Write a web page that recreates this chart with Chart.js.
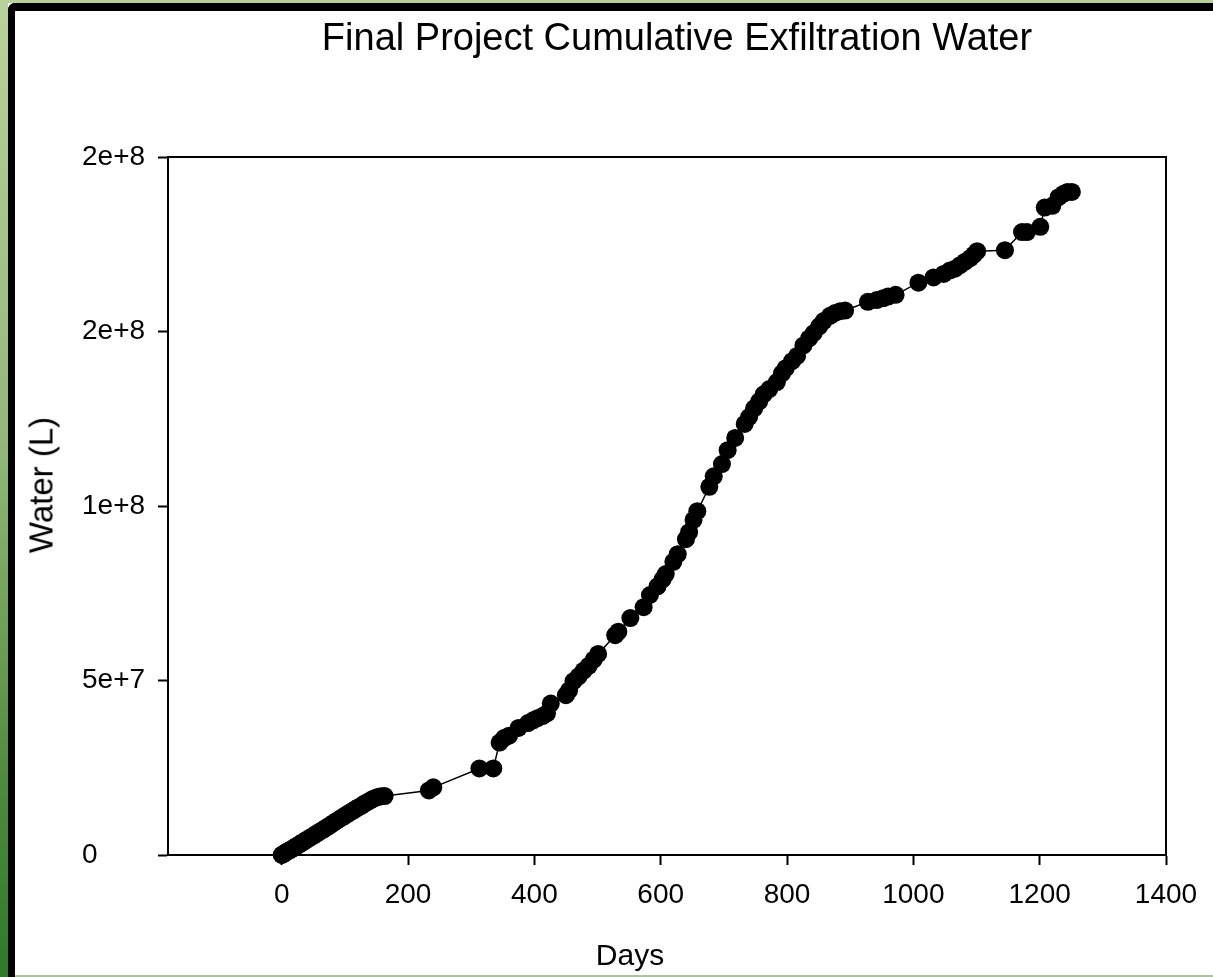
<!DOCTYPE html>
<html>
<head>
<meta charset="utf-8">
<title>Final Project Cumulative Exfiltration Water</title>
<script src="https://cdn.jsdelivr.net/npm/chart.js@4.4.1/dist/chart.umd.min.js"></script>
<style>
  html, body { margin: 0; padding: 0; background: #fff; }
  #page { position: relative; width: 1213px; height: 977px; overflow: hidden; background: #fff;
          font-family: "Liberation Sans", Arial, sans-serif; color: #000; }
  /* green edge + black frame */
  #greenLeft { position: absolute; left: 0; top: 0; width: 8px; height: 977px;
               background: linear-gradient(to bottom, #b9d29b 0%, #93b877 45%, #4f8b3c 80%, #2d7a2a 100%); }
  #greenTop { position: absolute; left: 0; top: 0; width: 1213px; height: 3px; background: #b7d199; }
  #frame { position: absolute; left: 8px; top: 3px; width: 1220px; height: 990px;
           border-left: 7px solid #000; border-top: 8px solid #000; border-top-left-radius: 7px; }
  #bottomLine { position: absolute; left: 15px; top: 975px; width: 1198px; height: 2px; background: #a9c2a0; }
  #chartBox { position: absolute; left: 0; top: 0; width: 1213px; height: 977px; }
  .lbl { position: absolute; white-space: nowrap; }
  #title { left: 0; top: 18px; width: 1354px; text-align: center; font-size: 38px; line-height: 38px; }
  #xTitle { left: 630px; top: 955px; font-size: 30px; line-height: 30px; transform: translate(-50%, -50%); }
  #yTitle { left: 41px; top: 485px; font-size: 33px; line-height: 33px;
            transform: translate(-50%, -50%) rotate(-90deg); }
</style>
</head>
<body>
<div id="page">
  <div id="greenLeft"></div>
  <div id="greenTop"></div>
  <div id="frame"></div>
  <div id="bottomLine"></div>
  <div id="chartBox"><canvas id="exfilChart" width="1213" height="977"></canvas></div>
  <div class="lbl" id="title">Final Project Cumulative Exfiltration Water</div>
  <div class="lbl" id="xTitle">Days</div>
  <div class="lbl" id="yTitle">Water (L)</div>
</div>

<script>
// cumulative exfiltration readings
const days = [
  0, 1, 3, 5, 7, 9, 12, 14, 17, 20, 23, 26, 29, 32, 35, 38, 42, 46, 50, 54,
  58, 62, 66, 70, 74, 78, 82, 86, 90, 94, 98, 102, 106, 110, 114, 118, 122, 126, 130, 134,
  138, 142, 146, 150, 154, 158, 163,
  233, 240, 313, 335, 345, 352, 360, 375, 390, 398, 405, 413, 420, 426, 450, 455, 462, 470,
  478, 486, 494, 501, 528, 533, 552, 573, 583, 595, 603, 608, 620, 627, 640, 645, 652, 658,
  677, 684, 697, 706, 718, 733, 740, 748, 756, 763, 772, 784, 792, 798, 808, 816, 826, 835,
  842, 851, 858, 868, 876, 884, 892, 928, 942, 952, 960, 972, 1008, 1032, 1048, 1058, 1066,
  1074, 1082, 1090, 1096, 1101, 1145, 1172, 1180, 1201, 1208, 1220, 1230, 1238, 1244, 1251
];
const water = [
  0, 1.0e5, 3.0e5, 5.5e5, 8.0e5, 1.0e6, 1.3e6, 1.5e6, 1.8e6, 2.2e6, 2.5e6, 2.8e6, 3.2e6, 3.5e6, 3.8e6, 4.2e6, 4.6e6, 5.1e6, 5.5e6, 6.0e6,
  6.4e6, 6.9e6, 7.3e6, 7.8e6, 8.2e6, 8.7e6, 9.2e6, 9.7e6, 1.01e7, 1.06e7, 1.10e7, 1.15e7, 1.19e7, 1.24e7, 1.28e7, 1.33e7, 1.37e7, 1.41e7, 1.46e7, 1.50e7,
  1.54e7, 1.58e7, 1.62e7, 1.65e7, 1.67e7, 1.68e7, 1.69e7,
  1.85e7, 1.94e7, 2.48e7, 2.48e7, 3.22e7, 3.35e7, 3.42e7, 3.64e7, 3.78e7, 3.86e7, 3.92e7, 3.98e7, 4.06e7, 4.34e7, 4.58e7, 4.72e7, 4.98e7, 5.12e7,
  5.28e7, 5.42e7, 5.60e7, 5.76e7, 6.30e7, 6.40e7, 6.79e7, 7.10e7, 7.45e7, 7.70e7, 7.90e7, 8.05e7, 8.40e7, 8.62e7, 9.05e7, 9.25e7, 9.60e7, 9.85e7,
  1.055e8, 1.085e8, 1.12e8, 1.16e8, 1.195e8, 1.235e8, 1.255e8, 1.28e8, 1.30e8, 1.32e8, 1.335e8, 1.355e8, 1.38e8, 1.395e8, 1.415e8, 1.43e8, 1.46e8, 1.48e8,
  1.495e8, 1.515e8, 1.53e8, 1.545e8, 1.553e8, 1.558e8, 1.56e8, 1.585e8, 1.59e8, 1.595e8, 1.60e8, 1.605e8, 1.64e8, 1.655e8, 1.665e8, 1.675e8, 1.68e8,
  1.69e8, 1.70e8, 1.71e8, 1.72e8, 1.73e8, 1.733e8, 1.785e8, 1.785e8, 1.80e8, 1.855e8, 1.86e8, 1.885e8, 1.895e8, 1.90e8, 1.90e8
];

// axis ticks
const xTicks = [0, 200, 400, 600, 800, 1000, 1200, 1400];
const yTicks = [0, 5e7, 1e8, 1.5e8, 2e8];
const yTickLabels = ['0', '5e+7', '1e+8', '2e+8', '2e+8'];

const tickFont = { family: '"Liberation Sans", Arial, sans-serif', size: 28 };

// closes the plot box (top + right edges)
const boxPlugin = {
  id: 'plotBox',
  afterDraw(chart) {
    const a = chart.chartArea;
    const ctx = chart.ctx;
    ctx.save();
    ctx.strokeStyle = '#000';
    ctx.lineWidth = 2;
    ctx.beginPath();
    ctx.moveTo(a.left, a.top);
    ctx.lineTo(a.right, a.top);
    ctx.lineTo(a.right, a.bottom);
    ctx.stroke();
    ctx.restore();
  }
};

const points = days.map((d, i) => ({ x: d, y: water[i] }));

new Chart(document.getElementById('exfilChart'), {
  type: 'scatter',
  data: {
    datasets: [{
      data: points,
      showLine: true,
      borderColor: '#000',
      borderWidth: 1.5,
      pointRadius: 9,
      pointHoverRadius: 9,
      pointBackgroundColor: '#000',
      pointBorderWidth: 0,
      clip: false
    }]
  },
  options: {
    responsive: false,
    animation: false,
    events: [],
    layout: { padding: { left: 82, top: 157, right: 47, bottom: 0 } },
    plugins: { legend: { display: false }, tooltip: { enabled: false } },
    scales: {
      x: {
        type: 'linear',
        min: -180,
        max: 1400,
        afterBuildTicks: s => { s.ticks = xTicks.map(v => ({ value: v })); },
        afterFit: s => { s.height = 122; },
        grid: { drawOnChartArea: false, tickLength: 10, tickColor: '#000', tickWidth: 2 },
        border: { color: '#000', width: 2 },
        ticks: {
          color: '#000', font: tickFont, padding: 13, maxRotation: 0, autoSkip: false,
          callback: v => String(v)
        }
      },
      y: {
        type: 'linear',
        min: 0,
        max: 2e8,
        afterBuildTicks: s => { s.ticks = yTicks.map(v => ({ value: v })); },
        afterFit: s => { s.width = 86; },
        grid: { drawOnChartArea: false, tickLength: 10, tickColor: '#000', tickWidth: 2 },
        border: { color: '#000', width: 2 },
        ticks: {
          color: '#000', font: tickFont, crossAlign: 'far', autoSkip: false,
          callback: (v, i) => yTickLabels[i]
        }
      }
    }
  },
  plugins: [boxPlugin]
});
</script>
</body>
</html>
